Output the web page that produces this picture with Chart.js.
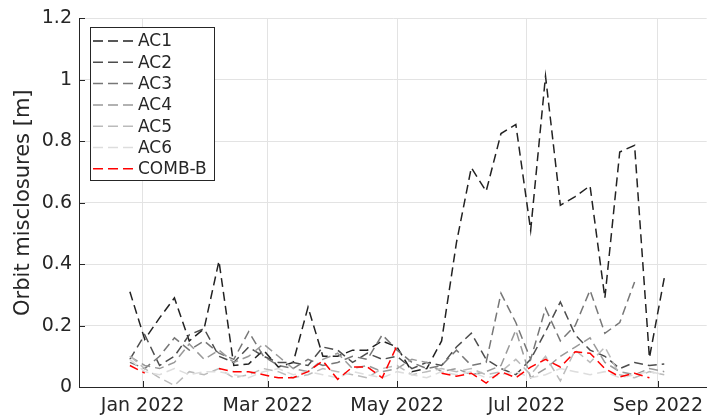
<!DOCTYPE html>
<html>
<head>
<meta charset="utf-8">
<script src="https://cdn.jsdelivr.net/npm/chart.js@4.4.1/dist/chart.umd.min.js"></script>
<style>
  html, body { margin: 0; padding: 0; background: #ffffff; }
  #wrap { width: 711px; height: 419px; }
</style>
</head>
<body>
<div id="wrap"><canvas id="c" width="711" height="419"></canvas></div>
<script>
// Weekly solution epochs (GPS week start dates)
const weekDates = [
  '2021-12-26','2022-01-02','2022-01-09','2022-01-16','2022-01-23','2022-01-30',
  '2022-02-06','2022-02-13','2022-02-20','2022-02-27','2022-03-06','2022-03-13',
  '2022-03-20','2022-03-27','2022-04-03','2022-04-10','2022-04-17','2022-04-24',
  '2022-05-01','2022-05-08','2022-05-15','2022-05-22','2022-05-29','2022-06-05',
  '2022-06-12','2022-06-19','2022-06-26','2022-07-03','2022-07-10','2022-07-17',
  '2022-07-24','2022-07-31','2022-08-07','2022-08-14','2022-08-21','2022-08-28',
  '2022-09-04'
];

// Orbit misclosures per analysis centre [m]
const ac1 = [0.31,0.155,0.225,0.29,0.15,0.19,0.41,0.07,0.075,0.12,0.065,0.08,0.26,0.10,0.10,0.12,0.12,0.15,0.13,0.05,0.06,0.15,0.47,0.714,0.637,0.825,0.855,0.51,1.012,0.592,0.62,0.655,0.29,0.765,0.787,0.095,0.355];
const ac2 = [0.09,0.17,0.07,0.10,0.17,0.19,0.10,0.08,0.13,0.10,0.08,0.08,0.07,0.13,0.12,0.08,0.11,0.09,0.10,0.06,0.08,0.07,0.13,0.175,0.09,0.06,0.04,0.09,0.18,0.277,0.17,0.12,0.10,0.06,0.08,0.07,0.075];
const ac3 = [0.08,0.06,0.10,0.16,0.12,0.15,0.11,0.09,0.18,0.10,0.07,0.06,0.09,0.07,0.08,0.10,0.09,0.17,0.12,0.08,0.06,0.07,0.12,0.07,0.08,0.305,0.21,0.09,0.256,0.15,0.20,0.315,0.175,0.21,0.342,null,null];
const ac4 = [0.10,0.07,0.06,0.08,0.14,0.09,0.12,0.08,0.10,0.14,0.10,0.06,0.05,0.09,0.11,0.06,0.07,0.05,0.06,0.09,0.08,0.05,0.06,0.04,0.05,0.07,0.185,0.03,0.06,0.10,0.13,0.16,0.08,0.05,0.04,0.06,0.05];
const ac5 = [0.10,0.06,0.03,0.005,0.05,0.04,0.06,0.03,0.04,0.06,0.05,0.03,0.04,0.06,0.05,0.04,0.03,0.06,0.07,0.04,0.05,0.06,0.05,0.06,0.04,0.05,0.09,0.04,0.10,0.02,0.12,0.08,0.13,0.04,0.03,0.05,0.04];
const ac6 = [0.09,0.05,0.04,0.06,0.04,0.05,0.05,0.04,0.03,0.05,0.06,0.04,0.05,0.04,0.03,0.05,0.04,0.03,0.05,0.04,0.03,0.05,0.04,0.05,0.03,0.04,0.05,0.03,0.04,0.06,0.05,0.04,0.05,0.03,0.04,0.05,0.04];
const combB = [0.07,0.045,null,null,null,null,0.06,0.05,0.05,0.04,0.03,0.03,0.05,0.085,0.025,0.065,0.065,0.03,0.135,null,null,0.045,0.035,0.045,0.013,0.05,0.03,0.065,0.09,0.065,0.115,0.11,0.06,0.033,0.045,0.03,null];

const seriesNames = ['AC1','AC2','AC3','AC4','AC5','AC6','COMB-B'];
const seriesColors = ['#222222','#4d4d4d','#777777','#999999','#bbbbbb','#dddddd','#ff0000'];

// Axis ticks
const xTickDates = ['2022-01-01','2022-03-01','2022-05-01','2022-07-01','2022-09-01'];
const xTickLabels = ['Jan 2022','Mar 2022','May 2022','Jul 2022','Sep 2022'];
const yTickValues = [0,0.2,0.4,0.6,0.8,1,1.2];
const yTickLabels = ['0','0.2','0.4','0.6','0.8','1','1.2'];
const xRange = ['2021-12-02','2022-09-24'];

// Days relative to 1 Jan 2022 so a plain linear scale can carry the dates
const REF = Date.UTC(2022, 0, 1);
function dayOf(s) {
  const [y, m, d] = s.split('-').map(Number);
  return (Date.UTC(y, m - 1, d) - REF) / 86400000;
}
const xDays = weekDates.map(dayOf);

const allSeries = [ac1, ac2, ac3, ac4, ac5, ac6, combB];
const datasets = allSeries.map((vals, k) => ({
  label: seriesNames[k],
  data: vals.map((v, i) => ({ x: xDays[i], y: v })),
  borderColor: seriesColors[k],
  backgroundColor: seriesColors[k],
  borderWidth: 1.5,
  borderDash: [9, 5],
  pointRadius: 0,
  tension: 0,
  spanGaps: false,
  order: allSeries.length - 1 - k
}));

const AXIS = '#262626';
const FONT = 'DejaVu Sans';
const TICK_SIZE = 19;
Chart.defaults.font.family = FONT;
Chart.defaults.color = AXIS;

// Inward tick marks on both axes
const innerTicks = {
  id: 'innerTicks',
  afterDraw(chart) {
    const { ctx, chartArea: a, scales } = chart;
    ctx.save();
    ctx.strokeStyle = AXIS;
    ctx.lineWidth = 1;
    ctx.beginPath();
    scales.x.ticks.forEach(t => {
      const px = Math.round(scales.x.getPixelForValue(t.value)) + 0.5;
      ctx.moveTo(px, a.bottom);
      ctx.lineTo(px, a.bottom - 6);
    });
    scales.y.ticks.forEach(t => {
      const py = Math.round(scales.y.getPixelForValue(t.value)) + 0.5;
      ctx.moveTo(a.left, py);
      ctx.lineTo(a.left + 6, py);
    });
    ctx.stroke();
    ctx.restore();
  }
};

// Boxed legend in the upper-left corner of the axes
const boxLegend = {
  id: 'boxLegend',
  afterDraw(chart) {
    const { ctx } = chart;
    const x0 = 90.5, y0 = 27.5, w = 124, h = 153;
    ctx.save();
    ctx.fillStyle = '#ffffff';
    ctx.fillRect(x0, y0, w, h);
    ctx.strokeStyle = AXIS;
    ctx.lineWidth = 1;
    ctx.setLineDash([]);
    ctx.strokeRect(x0, y0, w, h);
    ctx.font = '17px "' + FONT + '"';
    ctx.textBaseline = 'middle';
    ctx.textAlign = 'left';
    chart.data.datasets.forEach((ds, i) => {
      const yy = 41 + i * 21.3;
      ctx.strokeStyle = ds.borderColor;
      ctx.lineWidth = ds.borderWidth;
      ctx.setLineDash([10, 5]);
      ctx.beginPath();
      ctx.moveTo(93, yy);
      ctx.lineTo(136, yy);
      ctx.stroke();
      ctx.setLineDash([]);
      ctx.fillStyle = AXIS;
      ctx.fillText(ds.label, 138, yy + 1);
    });
    ctx.restore();
  }
};

new Chart(document.getElementById('c'), {
  type: 'line',
  data: { datasets },
  plugins: [innerTicks, boxLegend],
  options: {
    responsive: false,
    animation: false,
    layout: { padding: { top: 18, right: 0, bottom: 0, left: 0 } },
    plugins: { legend: { display: false }, tooltip: { enabled: false } },
    scales: {
      x: {
        type: 'linear',
        min: dayOf(xRange[0]),
        max: dayOf(xRange[1]),
        afterBuildTicks(scale) { scale.ticks = xTickDates.map(d => ({ value: dayOf(d) })); },
        afterFit(scale) { scale.height = 32; },
        ticks: {
          autoSkip: false,
          maxRotation: 0,
          padding: 8,
          color: AXIS,
          font: { size: TICK_SIZE },
          callback: (v, i) => xTickLabels[i]
        },
        grid: { color: '#e3e3e3', lineWidth: 1, drawTicks: false },
        border: { display: true, color: AXIS, width: 1 }
      },
      y: {
        type: 'linear',
        min: 0,
        max: 1.2,
        afterBuildTicks(scale) { scale.ticks = yTickValues.map(v => ({ value: v })); },
        afterFit(scale) { scale.width = 79; },
        ticks: {
          autoSkip: false,
          padding: 7,
          color: AXIS,
          font: { size: TICK_SIZE },
          callback: (v, i) => yTickLabels[i]
        },
        title: {
          display: true,
          text: 'Orbit misclosures [m]',
          color: AXIS,
          font: { size: 21 },
          padding: { top: 11, bottom: 0 }
        },
        grid: { color: '#e3e3e3', lineWidth: 1, drawTicks: false },
        border: { display: true, color: AXIS, width: 1 }
      }
    }
  }
});
</script>
</body>
</html>
